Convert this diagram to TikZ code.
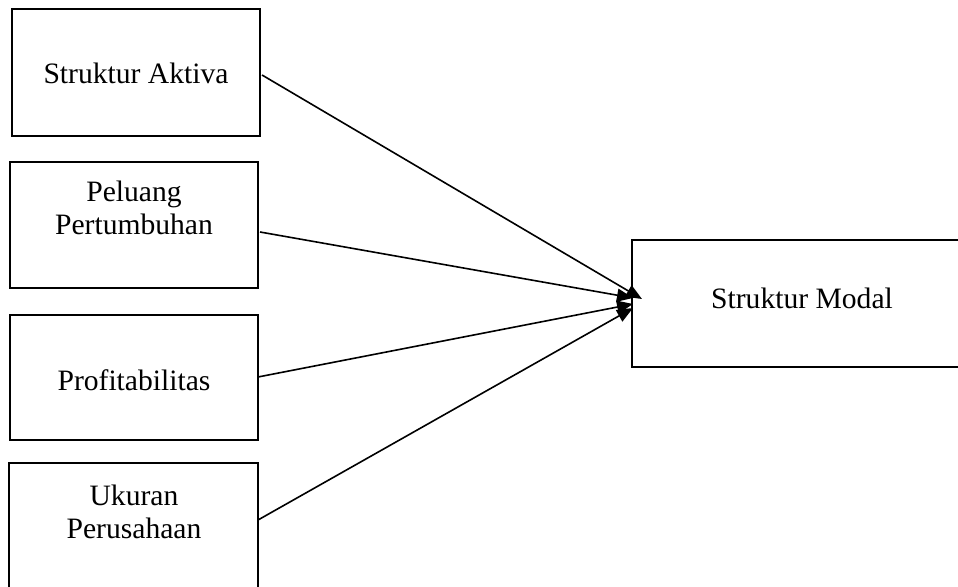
\documentclass[tikz,border=0pt]{standalone}
\usepackage{fontspec}
\setmainfont{Liberation Serif}
\usetikzlibrary{arrows.meta}
\begin{document}
\begin{tikzpicture}[x=0.5pt,y=-0.5pt,
  box/.style={draw,line width=1pt,inner sep=0pt,outer sep=0pt},
  lbl/.style={inner sep=0pt,align=center,font=\fontsize{14.8}{16.5}\selectfont},
  conn/.style={line width=0.8pt,-{Triangle[length=8pt,width=6.5pt]}}]
\useasboundingbox (0,0) rectangle (958,587);
\clip (0,0) rectangle (958,587);
% boxes
\node[box,minimum width=124pt,minimum height=63.5pt] (b1) at (136,72.5) {};
\node[box,minimum width=124pt,minimum height=63pt] (b2) at (134,225) {};
\node[box,minimum width=124pt,minimum height=62.5pt] (b3) at (134,377.5) {};
\node[box,minimum width=124.5pt,minimum height=66pt] (b4) at (133.5,529) {};
\node[box,minimum width=165pt,minimum height=63.5pt] (b5) at (797,303.5) {};
% texts
\node[lbl] (t1) at (136,73) {Struktur Aktiva};
\node[lbl] (t2) at (134,208) {Peluang\\Pertumbuhan};
\node[lbl] (t3) at (134,380) {Profitabilitas};
\node[lbl] (t4) at (134,512) {Ukuran\\Perusahaan};
\node[lbl] (t5) at (802,298) {Struktur Modal};
% arrow ends
\coordinate (s1) at (262,75);
\coordinate (s2) at (260,232);
\coordinate (s3) at (258,377);
\coordinate (s4) at (258,520);
\coordinate (e1) at (642,299);
\coordinate (e2) at (633,298);
\coordinate (e3) at (633,304);
\coordinate (e4) at (633,308);
\draw[conn] (s1) -- (e1);
\draw[conn] (s2) -- (e2);
\draw[conn] (s3) -- (e3);
\draw[conn] (s4) -- (e4);
\end{tikzpicture}
\end{document}
